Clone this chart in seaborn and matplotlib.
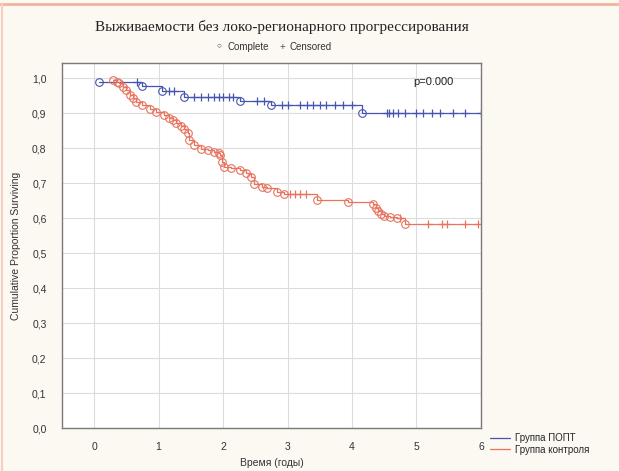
import numpy as np
import pandas as pd
import matplotlib
matplotlib.use("Agg")
import matplotlib.pyplot as plt
from matplotlib.lines import Line2D
import seaborn as sns

# ---- data ----
groups = ["Группа ПОПТ", "Группа контроля"]

popt_event_t = [0.08, 0.75, 1.06, 1.39, 2.27, 2.74, 4.15]
popt_event_s = [0.990, 0.977, 0.964, 0.947, 0.935, 0.922, 0.900]
popt_cens_t = [0.67, 1.16, 1.24, 1.55, 1.65, 1.76, 1.86, 1.93, 2.00, 2.09, 2.16,
               2.53, 2.63, 2.92, 3.00, 3.20, 3.30, 3.40, 3.51, 3.59, 3.73, 3.86,
               4.00, 4.54, 4.57, 4.63, 4.71, 4.82, 5.00, 5.10, 5.24, 5.36, 5.56,
               5.75, 6.00]

ctrl_event_t = [0.29, 0.35, 0.39, 0.44, 0.49, 0.55, 0.60, 0.65, 0.75, 0.86, 0.96,
                1.09, 1.16, 1.22, 1.27, 1.34, 1.40, 1.45, 1.47, 1.55, 1.65, 1.76,
                1.86, 1.94, 1.96, 1.99, 2.01, 2.12, 2.27, 2.35, 2.43, 2.48, 2.60,
                2.68, 2.84, 2.94, 3.46, 3.94, 4.33, 4.37, 4.41, 4.45, 4.49, 4.59,
                4.69, 4.82]
ctrl_event_s = [0.995, 0.990, 0.985, 0.975, 0.966, 0.951, 0.942, 0.932, 0.923,
                0.913, 0.904, 0.894, 0.887, 0.880, 0.871, 0.864, 0.856, 0.842,
                0.823, 0.809, 0.799, 0.794, 0.790, 0.785, 0.780, 0.761, 0.747,
                0.742, 0.737, 0.728, 0.718, 0.699, 0.690, 0.685, 0.675, 0.668,
                0.651, 0.647, 0.640, 0.630, 0.620, 0.613, 0.607, 0.604, 0.600,
                0.583]
ctrl_cens_t = [3.04, 3.12, 3.20, 3.28, 4.75, 5.18, 5.39, 5.47, 5.75, 5.95]

y_ticks = [0.0, 0.1, 0.2, 0.3, 0.4, 0.5, 0.6, 0.7, 0.8, 0.9, 1.0]
y_tick_labels = ["0,0", "0,1", "0,2", "0,3", "0,4", "0,5", "0,6", "0,7", "0,8", "0,9", "1,0"]
x_ticks = [0, 1, 2, 3, 4, 5, 6]

colors = {"Группа ПОПТ": "#4656b0", "Группа контроля": "#e8735f"}


def step_value(ev_t, ev_s, t):
    idx = np.searchsorted(ev_t, t, side="right") - 1
    return ev_s[max(idx, 0)]


line_rows, event_rows, cens_rows = [], [], []
for g, et, es, ct in [(groups[0], popt_event_t, popt_event_s, popt_cens_t),
                      (groups[1], ctrl_event_t, ctrl_event_s, ctrl_cens_t)]:
    for t, s in zip(et, es):
        line_rows.append({"t": t, "s": s, "group": g})
        event_rows.append({"t": t, "s": s, "group": g})
    line_rows.append({"t": max(ct), "s": es[-1], "group": g})
    for t in ct:
        cens_rows.append({"t": t, "s": step_value(et, es, t), "group": g})

lines = pd.DataFrame(line_rows)
events = pd.DataFrame(event_rows)
cens = pd.DataFrame(cens_rows)

sns.set_style("whitegrid")
plt.rcParams["font.family"] = ["Liberation Sans", "DejaVu Sans"]

fig = plt.figure(figsize=(6.19, 4.71), dpi=100)
fig.patch.set_facecolor("#fcf8f2")
# thin salmon frame along the top and left edge of the panel
fig.add_artist(Line2D([0.0, 1.0], [0.992, 0.992], transform=fig.transFigure,
                      color="#f2b3a0", linewidth=2.0))
fig.add_artist(Line2D([0.004, 0.004], [0.0, 0.992], transform=fig.transFigure,
                      color="#f6cfc2", linewidth=1.5))
ax = fig.add_axes([0.100, 0.091, 0.677, 0.775])
ax.set_facecolor("white")

sns.lineplot(data=lines, x="t", y="s", hue="group", palette=colors, estimator=None,
             drawstyle="steps-post", linewidth=0.9, legend=False, ax=ax)
for g in groups:
    sub = events[events["group"] == g]
    ax.plot(sub["t"], sub["s"], linestyle="none", marker="o", markersize=5.5,
            markerfacecolor="none", markeredgecolor=colors[g], markeredgewidth=0.8)
    sub = cens[cens["group"] == g]
    ax.plot(sub["t"], sub["s"], linestyle="none", marker="+", markersize=6,
            markeredgecolor=colors[g], markeredgewidth=0.9)

ax.set_xlim(-0.5, 6.0)
ax.set_ylim(0, 1.043)
ax.set_xticks(x_ticks)
ax.set_yticks(y_ticks)
ax.set_yticklabels(y_tick_labels)
ax.tick_params(labelsize=7.5, colors="#333333", length=3, pad=8)
ax.tick_params(axis="x", pad=7)
ax.grid(color="#dcdcdc", linewidth=0.8)
for sp in ax.spines.values():
    sp.set_color("#7a7a7a")
    sp.set_linewidth(1.0)

ax.set_xlabel("Время (годы)", fontsize=7.5, color="#333333", labelpad=4)
ax.set_ylabel("Cumulative Proportion Surviving", fontsize=7.5, color="#333333", labelpad=8)

ax.text(4.95, 0.988, "p=0.000", fontsize=8, color="#222222", va="center")

fig.text(0.153, 0.942, "Выживаемости без локо-регионарного прогрессирования",
         family=["Liberation Serif", "DejaVu Serif"], fontsize=11, color="#222222",
         va="center")

# marker key under the title
fig.text(0.350, 0.903, "○", fontsize=6, color="#555555", va="center")
fig.text(0.368, 0.901, "Complete", fontsize=7, color="#333333", va="center")
fig.text(0.452, 0.901, "+", fontsize=7, color="#555555", va="center")
fig.text(0.467, 0.901, "Censored", fontsize=7, color="#333333", va="center")

handles = [Line2D([], [], color=colors[g], linewidth=0.9) for g in groups]
fig.legend(handles, groups, loc="upper left", bbox_to_anchor=(0.786, 0.088),
           frameon=False, fontsize=7, handlelength=2.0, handletextpad=0.5,
           labelspacing=0.15, borderaxespad=0)

fig.savefig("out.png", dpi=100, facecolor=fig.get_facecolor())
